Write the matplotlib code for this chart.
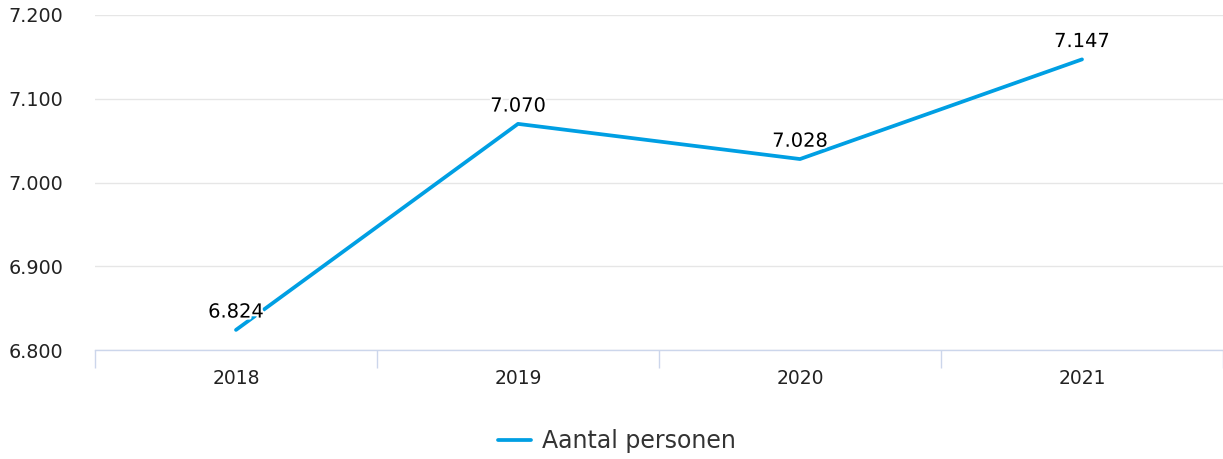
import matplotlib.pyplot as plt
import matplotlib.patheffects as pe
from matplotlib.ticker import FuncFormatter, FixedLocator

years = ['2018', '2019', '2020', '2021']
personen = [6824, 7070, 7028, 7147]
y_ticks = [6800, 6900, 7000, 7100, 7200]

def nl(v):
    # Dutch thousands separator
    return f'{int(v):,}'.replace(',', '.')

fig = plt.figure(figsize=(12.23, 4.59), dpi=100)
ax = fig.add_axes([95 / 1223, 1 - 350 / 459, 1 - 95 / 1223, 335 / 459])

x = list(range(len(years)))
line, = ax.plot(x, personen, color='#009fe3', lw=2.7, solid_capstyle='round',
                label='Aantal personen', zorder=3)

for xi, v in zip(x, personen):
    ax.annotate(nl(v), (xi, v), xytext=(0, 6), textcoords='offset points',
                ha='center', va='bottom', fontsize=14, color='black', zorder=4,
                path_effects=[pe.withStroke(linewidth=3, foreground='white')])

ax.set_xlim(-0.5, len(years) - 0.5)
ax.set_ylim(6800, 7200)
ax.set_yticks(y_ticks)
ax.yaxis.set_major_formatter(FuncFormatter(lambda v, p: nl(v)))
ax.grid(axis='y', color='#e6e6e6', lw=1)
ax.set_axisbelow(True)

ax.set_xticks(x)
ax.set_xticklabels(years)
ax.xaxis.set_minor_locator(FixedLocator([i - 0.5 for i in range(len(years) + 1)]))
ax.tick_params(axis='x', which='major', length=0, pad=14, labelsize=13.5, labelcolor='#222222')
ax.tick_params(axis='x', which='minor', length=13, width=1, color='#ccd6eb')
ax.tick_params(axis='y', length=0, pad=23, labelsize=13.8, labelcolor='#222222')

for s in ['top', 'right', 'left']:
    ax.spines[s].set_visible(False)
ax.spines['bottom'].set_color('#ccd6eb')
ax.spines['bottom'].set_linewidth(1)

fig.legend(handles=[line], loc='center', bbox_to_anchor=(617 / 1223, 1 - 441 / 459),
           frameon=False, fontsize=17, labelcolor='#333333', handlelength=1.4,
           handletextpad=0.45)

fig.savefig('out.png', dpi=100)
